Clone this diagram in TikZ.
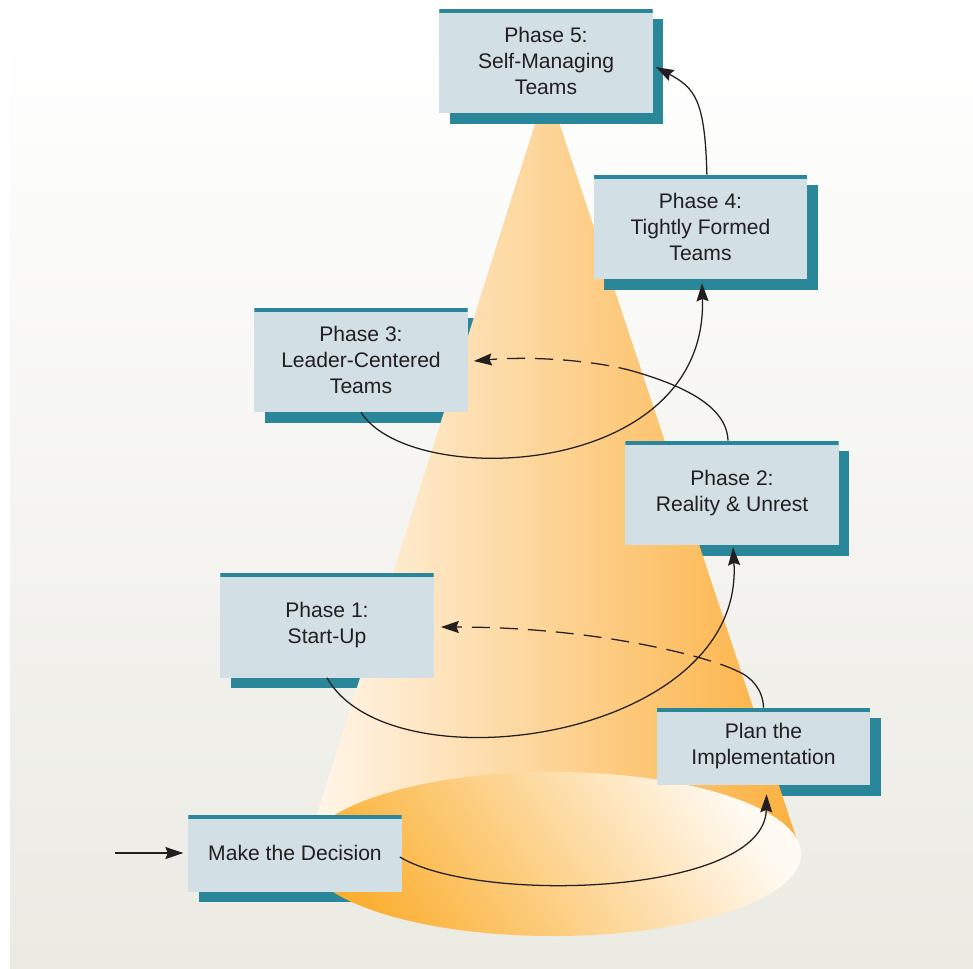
\documentclass[tikz,border=0pt]{standalone}
\usepackage{fontspec}
\setmainfont{Liberation Sans}
\usetikzlibrary{arrows.meta}

\definecolor{boxfill}{HTML}{D2DFE5}
\definecolor{boxteal}{HTML}{2A8799}
\definecolor{textgray}{HTML}{231F20}
\definecolor{panelgray}{HTML}{EBEAE3}
\definecolor{conelight}{HTML}{FFF7EC}
\definecolor{conemid}{HTML}{FDDAA6}
\definecolor{conedark}{HTML}{FBB03E}
\definecolor{baseorange}{HTML}{FBB034}
\definecolor{basepeach}{HTML}{FCD9A2}
\definecolor{baselight}{HTML}{FFFAF2}

\pgfdeclarelayer{panel}
\pgfdeclarelayer{shade}
\pgfdeclarelayer{cone}
\pgfsetlayers{panel,shade,cone,main}

\begin{document}
\begin{tikzpicture}[
  x=0.025cm, y=-0.025cm,
  font=\fontsize{15}{18.5}\selectfont,
  phase/.style={fill=boxfill, text=textgray, align=center, inner sep=0pt,
    minimum width=5.325cm, minimum height=2.6cm,
    path picture={\fill[boxteal] (path picture bounding box.north west)
      rectangle ([yshift=-0.1cm]path picture bounding box.north east);}},
  slim/.style={phase, minimum height=1.925cm},
  flow/.style={draw=textgray, line width=0.9pt,
    -{Stealth[length=4.5mm, width=3mm, inset=0.6mm]}},
  behind/.style={draw=textgray, line width=0.9pt, dash pattern=on 4.5mm off 2.5mm,
    -{Stealth[length=4.5mm, width=3mm, inset=0.6mm]}},
  boxshade/.style={fill=boxteal},
]
\useasboundingbox (0,0) rectangle (973,968);

% the steps
\node[slim]  (decide) at (295,853)   {Make the Decision};
\node[slim]  (plan)   at (763.5,746.5) {Plan the\\Implementation};
\node[phase] (p1)     at (327,625.5) {Phase 1:\\Start-Up};
\node[phase] (p2)     at (732,493)   {Phase 2:\\Reality \& Unrest};
\node[phase] (p3)     at (361,360)   {Phase 3:\\Leader-Centered\\Teams};
\node[phase] (p4)     at (700.5,227) {Phase 4:\\Tightly Formed\\Teams};
\node[phase] (p5)     at (546,61)    {Phase 5:\\Self-Managing\\Teams};

% backdrop
\begin{pgfonlayer}{panel}
  \fill[white] (0,0) rectangle (973,968);
  \shade[top color=white, bottom color=panelgray] (10,33) rectangle (973,968);
\end{pgfonlayer}

% box shadows, the cone hides part of them
\begin{pgfonlayer}{shade}
  \foreach \n in {decide, plan, p1, p2, p3}
    \fill[boxshade] ([shift={(10.5,10.5)}]\n.north west) rectangle ([shift={(10.5,10.5)}]\n.south east);
\end{pgfonlayer}

\begin{pgfonlayer}{cone}
  \shade[left color=conelight, middle color=conemid, right color=conedark]
    (547,86) -- (801,852) -- (305,852) -- cycle;
  \shade[bottom color=baseorange, middle color=basepeach, top color=baselight, shading angle=-55]
    (553,854) ellipse [x radius=6.2cm, y radius=2.05cm];
  \foreach \n in {p4, p5}
    \fill[boxshade] ([shift={(10.5,10.5)}]\n.north west) rectangle ([shift={(10.5,10.5)}]\n.south east);
\end{pgfonlayer}

% path up the cone
\coordinate (entry) at (115,853);
\coordinate (p1back) at (737,671);
\coordinate (p3back) at (636,372);

\draw[flow, shorten >=0.12cm] (entry) -- (decide.west);
\draw[flow] ([shift={(-2,4)}]decide.east) .. controls (480,905) and (765,895) .. ([shift={(3,9)}]plan.south);
\draw[draw=textgray, line width=0.9pt] (plan.north) .. controls (763,690) and (752,677) .. (p1back);
\draw[behind] (p1back) .. controls (712,658) and (600,627) .. ([shift={(7,1.5)}]p1.east);
\draw[flow] (p1.south) .. controls (390,790) and (745,740) .. ([shift={(1,2)}]p2.south);
\draw[draw=textgray, line width=0.9pt] ([xshift=-0.1cm]p2.north) .. controls (727,405) and (680,385) .. (p3back);
\draw[behind] (p3back) .. controls (596,360) and (530,356) .. ([shift={(6,1)}]p3.east);
\draw[flow] (p3.south) .. controls (410,490) and (708,480) .. ([shift={(1.5,4)}]p4.south);
\draw[flow] ([xshift=0.16cm]p4.north) .. controls (705,100) and (695,88) .. ([shift={(3,6)}]p5.east);
\end{tikzpicture}
\end{document}
